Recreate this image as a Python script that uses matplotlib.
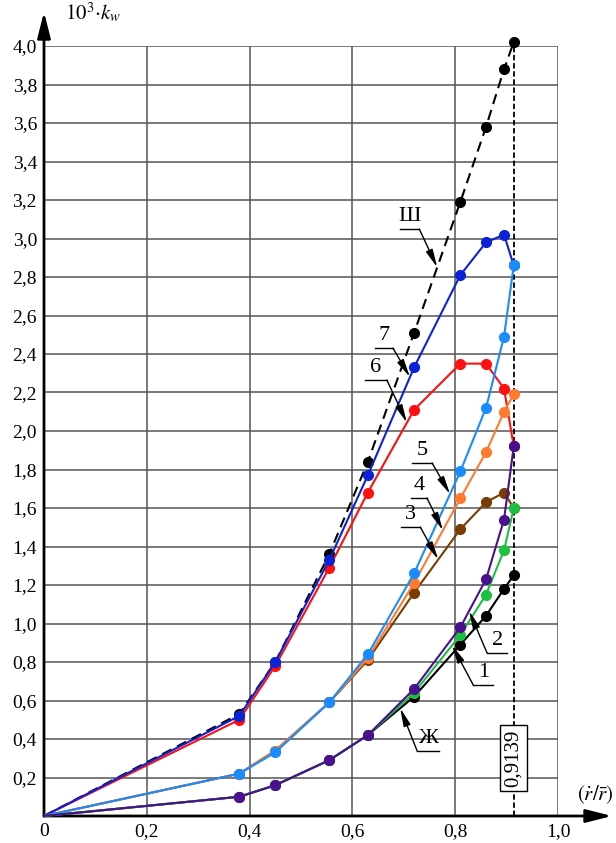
import numpy as np
import matplotlib
matplotlib.use('Agg')
import matplotlib.pyplot as plt

plt.rcParams['font.family'] = ['Liberation Serif', 'DejaVu Serif']
plt.rcParams['mathtext.fontset'] = 'stix'

# relative radius (r_dot / r_bar) at which points were computed
x = [0, 0.38, 0.45, 0.555, 0.63, 0.72, 0.81, 0.86, 0.895, 0.9139]

# 10^3 * k_w for each curve
sh = [0, 0.53, 0.80, 1.36, 1.84, 2.51, 3.19, 3.58, 3.88, 4.02]
c7 = [0, 0.52, 0.80, 1.33, 1.77, 2.33, 2.81, 2.98, 3.02, 2.86]
c6 = [0, 0.50, 0.78, 1.29, 1.68, 2.11, 2.35, 2.35, 2.22, 1.92]
c5 = [0, 0.22, 0.33, 0.59, 0.84, 1.26, 1.79, 2.12, 2.49, 2.86]
c4 = [0, 0.22, 0.34, 0.59, 0.82, 1.21, 1.65, 1.89, 2.10, 2.19]
c3 = [0, 0.22, 0.34, 0.59, 0.81, 1.16, 1.49, 1.63, 1.68, 1.60]
c2 = [0, 0.10, 0.16, 0.29, 0.42, 0.66, 0.98, 1.23, 1.54, 1.92]
c1 = [0, 0.10, 0.16, 0.29, 0.42, 0.64, 0.94, 1.15, 1.38, 1.60]
zh = [0, 0.10, 0.16, 0.29, 0.42, 0.62, 0.89, 1.04, 1.18, 1.25]

x_ticks = [0, 0.2, 0.4, 0.6, 0.8, 1.0]
x_ticklabels = ['0', '0,2', '0,4', '0,6', '0,8', '1,0']
y_ticks = [round(0.2 * i, 1) for i in range(1, 21)]
y_ticklabels = [f'{v:.1f}'.replace('.', ',') for v in y_ticks]

# name: (values, colour, dashed)
curves = {
    'Ш': (sh, 'black', True),
    '6': (c6, '#ff1010', False),
    '7': (c7, '#0a22d8', False),
    '3': (c3, '#7a3c00', False),
    '4': (c4, '#ff7b30', False),
    '5': (c5, '#1a8cff', False),
    'Ж': (zh, 'black', False),
    '1': (c1, '#1ec040', False),
    '2': (c2, '#4a1090', False),
}

# leader labels: underline x0, x1, underline y, which end the leader starts from, x of arrow tip
leaders = {
    'Ш': (0.693, 0.730, 3.05, 1, 0.765),
    '7': (0.644, 0.679, 2.43, 1, 0.712),
    '6': (0.625, 0.667, 2.265, 1, 0.706),
    '5': (0.716, 0.755, 1.834, 1, 0.790),
    '4': (0.714, 0.745, 1.652, 1, 0.776),
    '3': (0.695, 0.732, 1.501, 1, 0.767),
    '2': (0.862, 0.901, 0.847, 0, 0.827),
    '1': (0.835, 0.874, 0.681, 0, 0.794),
    'Ж': (0.726, 0.768, 0.338, 0, 0.693),
}

fig = plt.figure(figsize=(6.16, 8.43), dpi=100)
ax = fig.add_axes([44 / 616, 27 / 843, 514 / 616, 770 / 843])
ax.set_xlim(0, 1.0)
ax.set_ylim(0, 4.0)

for s in ax.spines.values():
    s.set_visible(False)

for gx in x_ticks[1:]:
    ax.axvline(gx, color='#555555', lw=1.1, zorder=1)
for gy in y_ticks:
    ax.axhline(gy, color='#555555', lw=1.1, zorder=1)

ax.set_xticks(x_ticks)
ax.set_xticklabels(x_ticklabels, fontsize=14)
ax.set_yticks(y_ticks)
ax.set_yticklabels(y_ticklabels, fontsize=14)
ax.tick_params(length=0, pad=5)

# axes with arrows
arrow_kw = dict(arrowstyle='-|>,head_length=1.3,head_width=0.33',
                color='black', lw=2, mutation_scale=12, shrinkA=0, shrinkB=0)
ax.annotate('', xy=((612 - 44) / 514, 0), xytext=(0, 0),
            annotation_clip=False, arrowprops=arrow_kw)
ax.annotate('', xy=(0, (816 - 12) / 192.5), xytext=(0, 0),
            annotation_clip=False, arrowprops=arrow_kw)

# vertical line at the limit radius
ax.plot([x[-1], x[-1]], [0, sh[-1]], color='black', lw=1.3, ls=(0, (3, 1.5)), zorder=2)
ax.text(x[-1], 0.30, '0,9139', rotation=90, ha='center', va='center', fontsize=15,
        bbox=dict(boxstyle='square,pad=0.2', fc='white', ec='black', lw=1), zorder=6)

for name, (vals, color, dashed) in curves.items():
    ax.plot(x, vals, color=color, lw=1.5, ls=(0, (5, 3)) if dashed else '-',
            marker='o', markersize=7, markevery=list(range(1, len(x))),
            clip_on=False, zorder=3)

for name, (u0, u1, uy, end, tipx) in leaders.items():
    vals = curves[name][0]
    tipy = np.interp(tipx, x, vals)
    ax.plot([u0, u1], [uy, uy], color='black', lw=1, zorder=5)
    ax.text((u0 + u1) / 2, uy + 0.015, name, ha='center', va='bottom', fontsize=16, zorder=5)
    sx = u1 if end else u0
    ax.annotate('', xy=(tipx, tipy), xytext=(sx, uy),
                arrowprops=dict(arrowstyle='-|>,head_length=0.9,head_width=0.18',
                                color='black', lw=1, mutation_scale=12,
                                shrinkA=0, shrinkB=0), zorder=5)

ax.text(0.04, 4.17, r'$10^{3}{\cdot}k_w$', fontsize=15, ha='left', va='center')
fig.text(577 / 616, 1 - 795 / 843, r'$(\dot{r}/\bar{r})$', fontsize=15, ha='left', va='center')

fig.savefig('out.png', dpi=100)
